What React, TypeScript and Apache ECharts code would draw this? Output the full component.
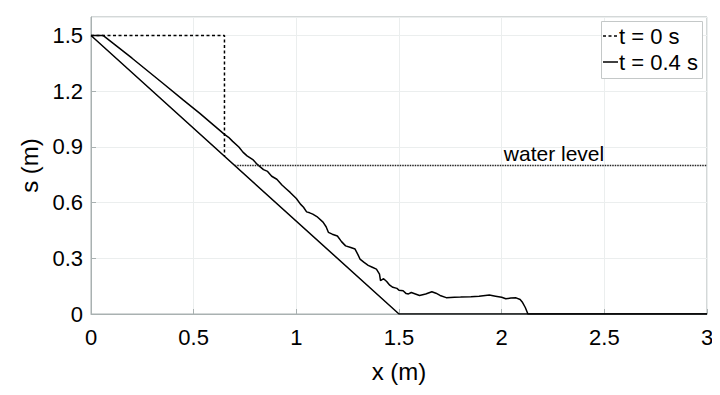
import React, { useEffect, useRef } from "react";
import * as echarts from "echarts";

const xTicks = [0, 0.5, 1, 1.5, 2, 2.5, 3];
const yTicks = [0, 0.3, 0.6, 0.9, 1.2, 1.5];
const legendNames = ["t = 0 s", "t = 0.4 s"];

const initialProfile: [number, number][] = [
  [0, 1.5], [0.65, 1.5], [0.65, 0.85],
];
const bedProfile: [number, number][] = [
  [0, 1.5], [1.5, 0], [3, 0],
];
const profileAt04: [number, number][] = [
  [0, 1.5], [0.06, 1.5], [0.2, 1.378], [0.35, 1.243], [0.45, 1.152], [0.53, 1.081],
  [0.6, 1.015], [0.65, 0.968], [0.67, 0.952], [0.69, 0.93], [0.72, 0.9], [0.74, 0.872],
  [0.76, 0.852], [0.79, 0.83], [0.81, 0.806], [0.84, 0.778], [0.86, 0.768],
  [0.88, 0.742], [0.905, 0.726], [0.93, 0.695], [0.95, 0.675], [0.97, 0.655],
  [1.0, 0.622], [1.02, 0.592], [1.035, 0.575], [1.05, 0.55], [1.065, 0.545],
  [1.08, 0.538], [1.1, 0.525], [1.13, 0.495], [1.145, 0.47], [1.156, 0.44],
  [1.175, 0.43], [1.2, 0.42], [1.22, 0.39], [1.24, 0.367], [1.265, 0.358],
  [1.286, 0.35], [1.3, 0.32], [1.31, 0.296], [1.33, 0.278], [1.35, 0.262],
  [1.37, 0.252], [1.39, 0.242], [1.405, 0.215], [1.41, 0.18], [1.425, 0.19],
  [1.44, 0.175], [1.455, 0.155], [1.47, 0.144], [1.49, 0.138], [1.5, 0.128],
  [1.52, 0.125], [1.535, 0.11], [1.546, 0.108], [1.56, 0.116], [1.58, 0.108],
  [1.6, 0.1], [1.63, 0.108], [1.66, 0.12], [1.68, 0.112], [1.7, 0.1],
  [1.73, 0.088], [1.77, 0.09], [1.8, 0.091], [1.85, 0.093], [1.89, 0.096],
  [1.92, 0.1], [1.94, 0.102], [1.97, 0.096], [2.0, 0.09], [2.02, 0.082],
  [2.045, 0.086], [2.07, 0.087], [2.09, 0.078], [2.1, 0.065], [2.115, 0.035],
  [2.128, 0], [3, 0],
];
const waterLevel: [number, number][] = [
  [0.7, 0.8], [3, 0.8],
];
const waterLabelPoint: [number, number][] = [[2.255, 0.8]];

const FONT = "Liberation Sans";
const INK = "#000000";

export default function App() {
  const ref = useRef<HTMLDivElement>(null);
  useEffect(() => {
    if (!ref.current) return;
    const chart = echarts.init(ref.current, undefined, { renderer: "svg" });
    const axisLineColor = "#a9b1b1";
    const gridColor = "#ebeeee";
    chart.setOption({
      animation: false,
      backgroundColor: "#ffffff",
      grid: { left: 91, right: 13, top: 17, bottom: 81, show: true, borderColor: axisLineColor, borderWidth: 1 },
      xAxis: {
        type: "value",
        min: 0,
        max: 3,
        interval: 0.5,
        name: "x (m)",
        nameLocation: "middle",
        nameGap: 45,
        nameTextStyle: { fontFamily: FONT, fontSize: 24, color: INK },
        axisLine: { show: true, lineStyle: { color: axisLineColor } },
        axisTick: { show: true, inside: true, length: 5, lineStyle: { color: axisLineColor } },
        splitLine: { show: true, lineStyle: { color: gridColor } },
        axisLabel: {
          fontFamily: FONT, fontSize: 22, color: INK, margin: 12,
          formatter: (v: number) => (xTicks.includes(v) ? String(v) : ""),
        },
      },
      yAxis: {
        type: "value",
        min: 0,
        max: 1.6,
        interval: 0.3,
        name: "s (m)",
        nameLocation: "middle",
        nameGap: 46,
        nameRotate: 90,
        nameTextStyle: { fontFamily: FONT, fontSize: 24, color: INK },
        axisLine: { show: true, lineStyle: { color: axisLineColor } },
        axisTick: { show: true, inside: true, length: 5, lineStyle: { color: axisLineColor } },
        splitLine: { show: true, lineStyle: { color: gridColor } },
        axisLabel: {
          fontFamily: FONT, fontSize: 22, color: INK, margin: 8, showMaxLabel: false,
          formatter: (v: number) => {
            const t = yTicks.find((y) => Math.abs(y - v) < 1e-6);
            return t === undefined ? "" : String(t);
          },
        },
      },
      graphic: [
        {
          type: "rect",
          shape: { x: 601.5, y: 21.5, width: 101, height: 57 },
          style: { fill: "#ffffff", stroke: "#c4c8c8", lineWidth: 1 },
          z: 10,
        },
        {
          type: "line",
          shape: { x1: 603, y1: 36, x2: 618, y2: 36 },
          style: { stroke: INK, lineWidth: 1.5, lineDash: [3, 2.5] },
          z: 11,
        },
        {
          type: "line",
          shape: { x1: 603, y1: 62, x2: 618, y2: 62 },
          style: { stroke: INK, lineWidth: 1.5 },
          z: 11,
        },
        {
          type: "text",
          x: 619,
          y: 36,
          style: { text: legendNames[0], font: `22px "${FONT}"`, fill: INK, textVerticalAlign: "middle", verticalAlign: "middle" },
          z: 11,
        },
        {
          type: "text",
          x: 619,
          y: 62,
          style: { text: legendNames[1], font: `22px "${FONT}"`, fill: INK, textVerticalAlign: "middle", verticalAlign: "middle" },
          z: 11,
        },
      ],
      series: [
        {
          name: legendNames[0],
          type: "line",
          data: initialProfile,
          symbol: "none",
          lineStyle: { color: INK, width: 1.5, type: [3, 2.5] },
        },
        {
          name: legendNames[1],
          type: "line",
          data: profileAt04,
          symbol: "none",
          lineStyle: { color: INK, width: 1.5 },
        },
        {
          name: "bed",
          type: "line",
          data: bedProfile,
          symbol: "none",
          lineStyle: { color: INK, width: 1.5 },
        },
        {
          name: "water level",
          type: "line",
          data: waterLevel,
          symbol: "none",
          lineStyle: { color: "#222", width: 1.3, type: [1.5, 1] },
        },
        {
          name: "water label",
          type: "scatter",
          data: waterLabelPoint,
          symbolSize: 0,
          silent: true,
          label: {
            show: true,
            position: "top",
            distance: 2,
            formatter: "water level",
            fontFamily: FONT,
            fontSize: 21,
            color: INK,
            opacity: 1,
          },
        },
      ],
    });
    return () => chart.dispose();
  }, []);
  return <div ref={ref} style={{ width: 720, height: 395, margin: -8 }} />;
}
